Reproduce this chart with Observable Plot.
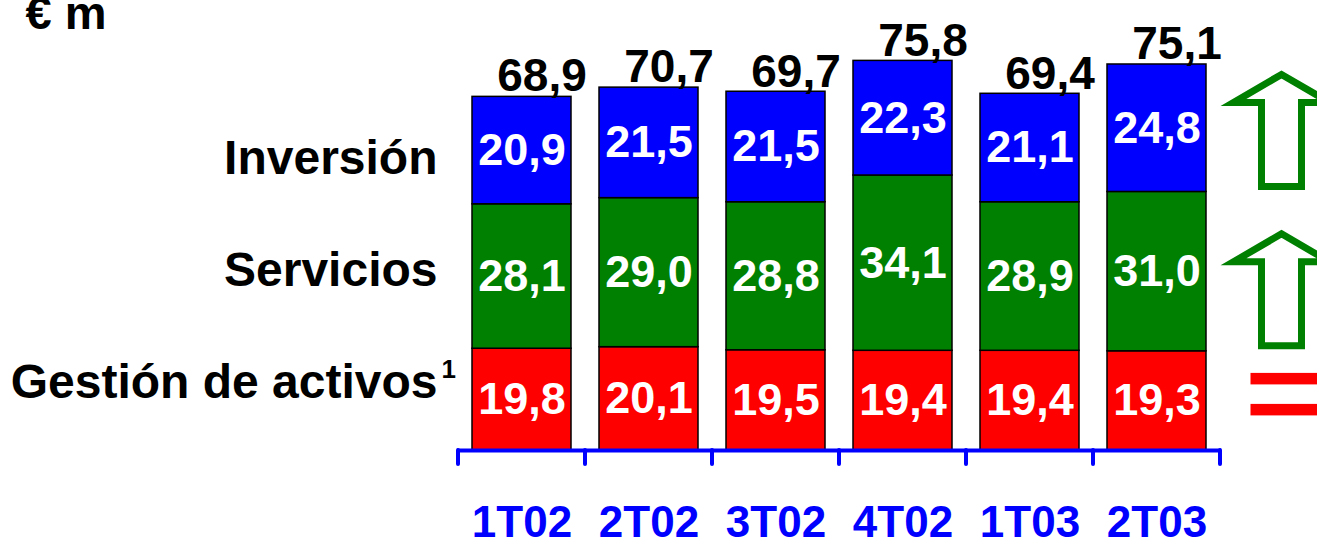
<!DOCTYPE html>
<html><head><meta charset="utf-8">
<script src="https://cdn.jsdelivr.net/npm/d3@7"></script>
<script src="https://cdn.jsdelivr.net/npm/@observablehq/plot@0.6"></script>
<style>body{margin:0;background:#fff} svg{display:block}</style>
</head><body><div id="chart"></div>
<script>
const categories = ["1T02", "2T02", "3T02", "4T02", "1T03", "2T03"];
const series = ["Gestión de activos", "Servicios", "Inversión"];
const seriesNotes = ["1", "", ""];
const gestion = [19.8, 20.1, 19.5, 19.4, 19.4, 19.3];
const servicios = [28.1, 29.0, 28.8, 34.1, 28.9, 31.0];
const inversion = [20.9, 21.5, 21.5, 22.3, 21.1, 24.8];
const totals = [68.9, 70.7, 69.7, 75.8, 69.4, 75.1];
const trends = ["equal", "up", "up"];
const seriesColors = ["#ff0000", "#008000", "#0000ff"];
const unitLabel = "€ m";

const seriesValues = [gestion, servicios, inversion];
const rows = series.flatMap((s, i) => categories.map((c, j) => ({category: c, series: s, value: seriesValues[i][j]})));
const totalRows = categories.map((c, j) => ({category: c, total: totals[j]}));
const fmt = v => v.toFixed(1).replace(".", ",");
const FONT = "'Liberation Sans', Arial, Helvetica, sans-serif";
const BLUE = "#0000ff";

// legend (series names, left of the bars): top series first, evenly spaced lines
const legendFont = 48, legendBottom = 397, legendLine = 112;
const legendOrder = series.slice().reverse();
const legendText = legendOrder.join("\n");
const noteMarks = legendOrder.map((s, k) => {
  const note = seriesNotes[series.indexOf(s)];
  if (!note) return null;
  return Plot.text([note], {frameAnchor: "top-left", textAnchor: "start", lineAnchor: "bottom",
    dx: -16, dy: legendBottom - (legendOrder.length - 1 - k) * legendLine - 20,
    fontSize: 26, fontWeight: "bold", fill: "black"});
}).filter(Boolean);

function decorations(index, scales, vals, dims) {
  const x = scales.x, y = scales.y;
  const step = x.step(), bw = x.bandwidth();
  const g = d3.create("svg:g");
  const y0 = y(0);
  const edges = categories.map(c => x(c) - (step - bw) / 2);
  edges.push(x(categories[categories.length - 1]) + bw + (step - bw) / 2);
  g.selectAll("line").data(edges).join("line")
    .attr("x1", d => d).attr("x2", d => d)
    .attr("y1", y0).attr("y2", y0 + 14)
    .attr("stroke", BLUE).attr("stroke-width", 4).attr("stroke-linecap", "round");
  const last = categories.length - 1;
  const cx = dims.width - dims.marginRight + 60.5;
  let cum = 0;
  series.forEach((s, i) => {
    const lo = cum, hi = cum + seriesValues[i][last];
    cum = hi;
    if (trends[i] === "up") {
      const yb = y(lo) - 5;
      const H = 112, hh = 28, hw = 48, sw = 20;
      const p = `M${cx},${yb - H} L${cx + hw},${yb - H + hh} L${cx + sw},${yb - H + hh} L${cx + sw},${yb} L${cx - sw},${yb} L${cx - sw},${yb - H + hh} L${cx - hw},${yb - H + hh} Z`;
      g.append("path").attr("d", p).attr("fill", "white")
        .attr("stroke", seriesColors[1]).attr("stroke-width", 7).attr("stroke-linejoin", "miter");
    } else {
      const ym = y((lo + hi) / 2) - 6;
      [-21.5, 9.5].forEach(off => {
        g.append("rect").attr("x", cx - 31).attr("width", 84)
          .attr("y", ym + off).attr("height", 11.5).attr("fill", seriesColors[i]);
      });
    }
  });
  return g.node();
}

const chart = Plot.plot({
  width: 1317,
  height: 539,
  marginLeft: 457,
  marginRight: 96,
  marginTop: 0,
  marginBottom: 89,
  style: {fontFamily: FONT, background: "white", color: "black"},
  x: {type: "band", domain: categories, paddingInner: 0.22, paddingOuter: 0.11},
  y: {domain: [0, 87.55], axis: null},
  color: {domain: series, range: seriesColors},
  marks: [
    Plot.barY(rows, {x: "category", y: "value", fill: "series", z: "series", stroke: "black", strokeWidth: 1.5}),
    Plot.text(rows, Plot.stackY({x: "category", y: "value", z: "series", text: d => fmt(d.value),
      fill: "white", fontSize: 45, fontWeight: "bold"})),
    Plot.text(totalRows, {x: "category", y: "total", text: d => fmt(d.total), lineAnchor: "bottom",
      dx: 20, dy: -5, fontSize: 46, fontWeight: "bold", fill: "black"}),
    Plot.text([legendText], {frameAnchor: "top-left", textAnchor: "end", lineAnchor: "bottom",
      lineHeight: legendLine / legendFont, dx: -20, dy: legendBottom,
      fontSize: legendFont, fontWeight: "bold", fill: "black"}),
    ...noteMarks,
    Plot.ruleY([0], {stroke: BLUE, strokeWidth: 4}),
    decorations,
    Plot.axisX({tickSize: 0, tickPadding: 55, fontSize: 44, fontWeight: "bold", fill: BLUE, label: null}),
    Plot.text([unitLabel], {frameAnchor: "top-left", dx: -432, dy: 28, lineAnchor: "bottom", textAnchor: "start",
      fontSize: 47, fontWeight: "bold", fill: "black"})
  ]
});
document.getElementById("chart").append(chart);
</script>
</body></html>
